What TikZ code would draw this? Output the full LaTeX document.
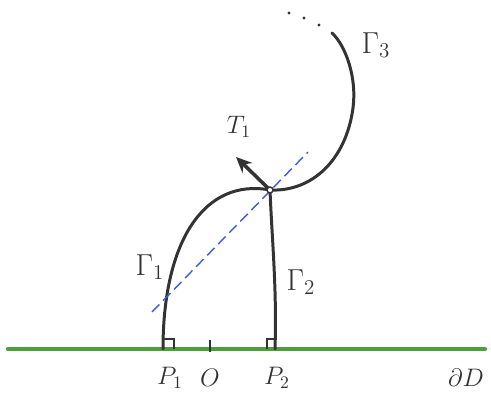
\documentclass[tikz,border=0pt]{standalone}
\usepackage{amsmath,amssymb}
\usetikzlibrary{arrows.meta,calc}
\definecolor{curveclr}{HTML}{333333}
\definecolor{bdryclr}{HTML}{4BA03A}
\definecolor{tanclr}{HTML}{3B5BDB}
\tikzset{
  curve/.style  = {line width=1.7pt, draw=curveclr, line cap=round},
  bdry/.style   = {line width=2.4pt, draw=bdryclr, line cap=round},
  tanline/.style= {thick, dashed, dash pattern=on 6pt off 3pt, draw=tanclr},
  rmark/.style  = {line width=1.1pt, draw=curveclr},
  tvec/.style   = {-{Stealth[length=9pt,width=8pt]}, line width=2pt, draw=curveclr},
  lbl/.style    = {font=\Large, text=curveclr},
  glbl/.style   = {font=\LARGE, text=curveclr},
}
\begin{document}
\begin{tikzpicture}[x=0.02cm, y=-0.02cm]
\useasboundingbox (0,0) rectangle (491,398);

%% points
\coordinate (P1) at (163,349);
\coordinate (P2) at (275,349);
\coordinate (O)  at (210,349);
\coordinate (J)  at (270,190);
\coordinate (E3) at (332,33);
\coordinate (L)  at (8,349);
\coordinate (R)  at (485,349);

%% boundary
\draw[bdry] (L) -- (R);

%% curves
\draw[curve] (P1) .. controls (163,240) and (205,178) .. (J);
\draw[curve] (P2) .. controls (277,290) and (272,240) .. (J);
\draw[curve] (J) .. controls (312,192) and (346,160) .. (353,108)
  .. controls (357,78) and (346,46) .. (E3);
\foreach \p in {(289,13),(304,18),(319,25)}
  \fill[curveclr] \p circle (1.6);

%% right angles + tick
\draw[rmark] ($(P1)+(0,-10)$) -- ++(11,0) -- ++(0,10);
\draw[rmark] ($(P2)+(0,-10)$) -- ++(-8,0) -- ++(0,10);
\draw[rmark] ($(O)+(0,-9)$) -- ($(O)+(0,3)$);

%% tangent line and vector
\coordinate (A) at (152,312);
\coordinate (B) at (308,152);
\draw[tanline] (A) -- (B);
\coordinate (T) at (236,157);
\draw[tvec] (J) -- (T);
\draw[curveclr, fill=white, line width=0.8pt] (J) circle (3);

%% labels
\node[lbl]  (t1) at (239,127) {$T_1$};
\node[glbl] (g1) at (150,267) {$\Gamma_1$};
\node[glbl] (g2) at (301,282) {$\Gamma_2$};
\node[glbl] (g3) at (376,45)  {$\Gamma_3$};
\node[lbl]  (p1) at (170,378) {$P_1$};
\node[lbl]  (o)  at (210,378) {$O$};
\node[lbl]  (p2) at (277,378) {$P_2$};
\node[lbl]  (dd) at (466,378) {$\partial D$};

\end{tikzpicture}
\end{document}
